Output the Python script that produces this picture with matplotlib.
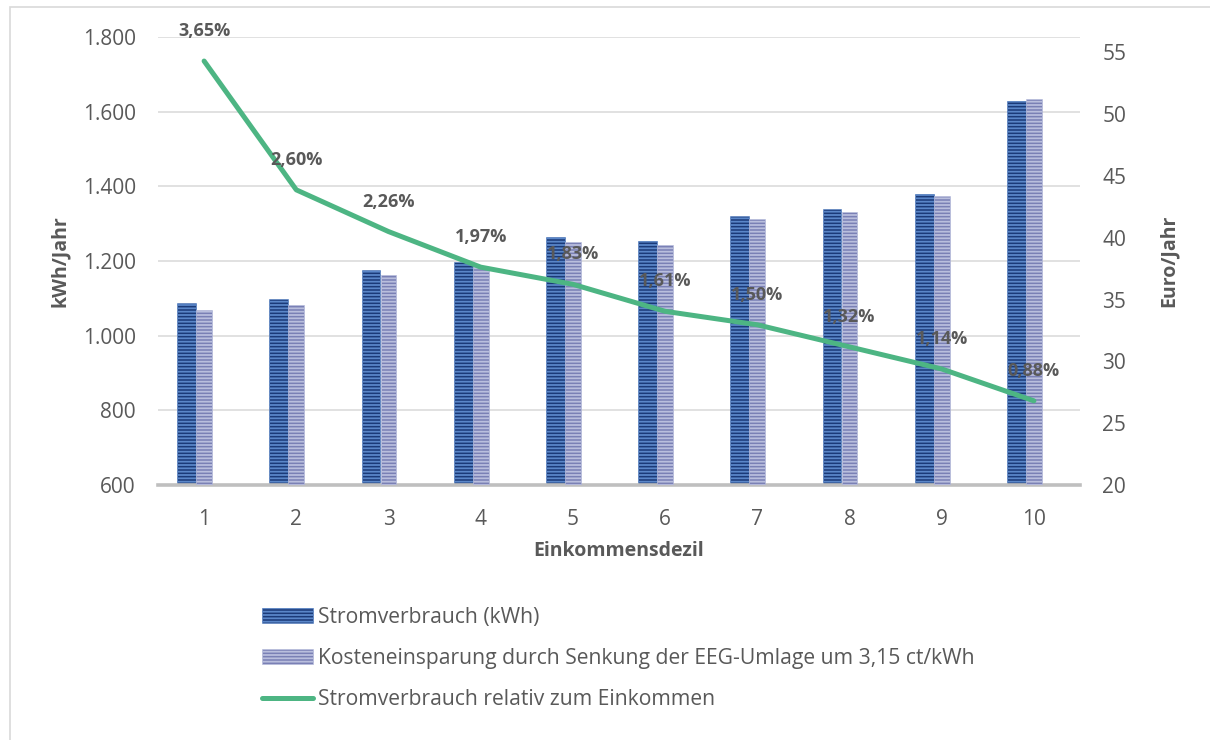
# Stromverbrauch und EEG-Kosteneinsparung nach Einkommensdezil

import matplotlib
matplotlib.use("Agg")
import matplotlib.pyplot as plt
from matplotlib.patches import Rectangle

# Daten
dezile = [1, 2, 3, 4, 5, 6, 7, 8, 9, 10]
verbrauch_kwh = [1087, 1099, 1176, 1198, 1264, 1254, 1320, 1339, 1380, 1629]
einsparung_euro = [34.2, 34.6, 37.0, 37.6, 39.7, 39.4, 41.5, 42.1, 43.4, 51.2]
anteil_einkommen = [3.65, 2.60, 2.26, 1.97, 1.83, 1.61, 1.50, 1.32, 1.14, 0.88]

links_ticks = [600, 800, 1000, 1200, 1400, 1600, 1800]
rechts_ticks = [20, 25, 30, 35, 40, 45, 50, 55]

grau = "#595959"
plt.rcParams["font.family"] = ["Open Sans", "DejaVu Sans"]
plt.rcParams["hatch.linewidth"] = 1.3

fig = plt.figure(figsize=(12.1, 7.4), dpi=100)
ax = fig.add_axes([158 / 1210, 1 - 485 / 740, 922 / 1210, 448 / 740])

# Rahmen um das Diagramm
fig.patches.append(Rectangle((10 / 1210, -0.05), 1.1, 0.9905 + 0.05,
                             transform=fig.transFigure, fill=False,
                             edgecolor="#d9d9d9", linewidth=1.2))

# Balken Stromverbrauch (linke Achse)
x_dunkel = [d - 0.19 for d in dezile]
b1 = ax.bar(x_dunkel, verbrauch_kwh, width=0.205, color="#1b3a78",
            edgecolor="#5a86c8", hatch="-----", linewidth=0.4,
            label="Stromverbrauch (kWh)", zorder=2)
ax.set_ylim(600, 1800)
ax.set_xlim(0.5, 10.5)
ax.set_yticks(links_ticks)
ax.set_yticklabels([f"{t:,}".replace(",", ".") for t in links_ticks])
ax.set_xticks(dezile)
ax.grid(axis="y", color="#d9d9d9", linewidth=1.1, zorder=0)
ax.set_axisbelow(True)
for s in ["top", "left", "right"]:
    ax.spines[s].set_visible(False)
ax.spines["bottom"].set_color("#bfbfbf")
ax.spines["bottom"].set_linewidth(2.6)
ax.spines["bottom"].set_zorder(3)
ax.tick_params(axis="both", length=0, labelsize=15, labelcolor=grau)
ax.tick_params(axis="y", pad=16)
ax.tick_params(axis="x", pad=17)
ax.set_xlabel("Einkommensdezil", fontsize=14, fontweight="bold", color=grau)
ax.xaxis.set_label_coords(0.5, -0.125)
ax.set_ylabel("kWh/Jahr", fontsize=14, fontweight="bold", color=grau)
ax.yaxis.set_label_coords(-0.096, 0.5)

# Balken Kosteneinsparung (rechte Achse)
ax2 = ax.twinx()
b2 = ax2.bar(dezile, einsparung_euro, width=0.172, color="#7a80b5",
             edgecolor="#b9bedd", hatch="-----", linewidth=0.4,
             label="Kosteneinsparung durch Senkung der EEG-Umlage um 3,15 ct/kWh",
             zorder=2)
ax2.set_ylim(20, 56.25)
ax2.set_yticks(rechts_ticks)
for s in ax2.spines.values():
    s.set_visible(False)
ax2.tick_params(axis="y", length=0, labelsize=15, labelcolor=grau, pad=16)
ax2.set_ylabel("Euro/Jahr", fontsize=14, fontweight="bold", color=grau)
ax2.yaxis.set_label_coords(1.085, 0.5)

# Linie Stromverbrauch relativ zum Einkommen (versteckte Achse)
ax3 = ax.twinx()
ax3.set_ylim(0.194, 3.846)
ax3.axis("off")
l1, = ax3.plot(dezile, anteil_einkommen, color="#4db583", linewidth=3.6,
               solid_capstyle="round", solid_joinstyle="round",
               label="Stromverbrauch relativ zum Einkommen")
for d, p in zip(dezile, anteil_einkommen):
    ax3.annotate(f"{p:.2f}%".replace(".", ","), (d, p), xytext=(0, 30),
                 textcoords="offset pixels", ha="center", va="center",
                 fontsize=13, fontweight="bold", color=grau)

# Legende
fig.legend(handles=[b1, b2, l1], loc="upper left",
           bbox_to_anchor=(262 / 1210, 1 - 607 / 740), frameon=False,
           fontsize=15.2, labelcolor=grau, handlelength=2.4,
           handletextpad=0.25, labelspacing=0.95, borderpad=0,
           borderaxespad=0)

fig.savefig("out.png", dpi=100)
